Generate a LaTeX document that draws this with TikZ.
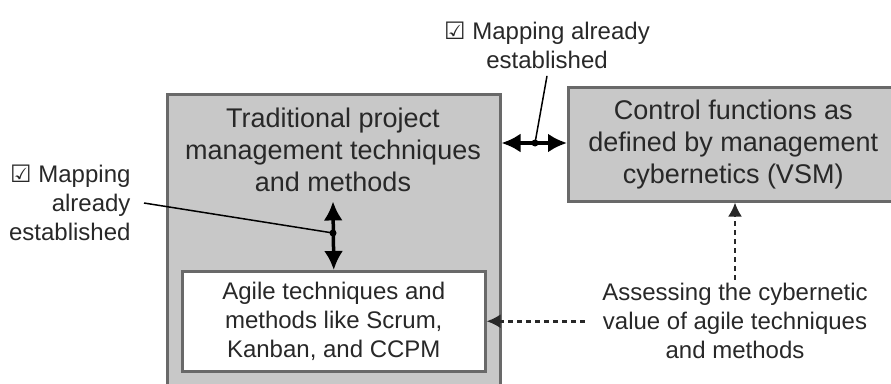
\documentclass[tikz,border=0pt]{standalone}
\usepackage{fontspec}
\setmainfont{Liberation Sans}
\newfontfamily\symfont{DejaVu Sans}
\usetikzlibrary{arrows.meta}
\definecolor{boxgray}{RGB}{200,200,200}
\definecolor{edgegray}{RGB}{105,105,105}
\definecolor{inkgray}{RGB}{40,40,40}
\newcommand{\chk}{{\symfont\bfseries ☑}}

\begin{document}
\begin{tikzpicture}[x=1pt, y=-1pt,
    box/.style={draw=edgegray, line width=2.5pt, fill=boxgray, anchor=north west},
    bigtext/.style={text=inkgray, align=center, font=\fontsize{27}{32}\selectfont},
    note/.style={text=inkgray, font=\fontsize{24}{29}\selectfont},
    maparrow/.style={{Latex[length=19pt,width=19pt]}-{Latex[length=19pt,width=19pt]}, line width=3.5pt, black},
    leader/.style={line width=1.5pt, black},
    hint/.style={-{Latex[length=14pt,width=14pt]}, dash pattern=on 5pt off 4pt, line width=2.5pt, inkgray}]
  \useasboundingbox (0,0) rectangle (891,383);

  % boxes
  \node [box, minimum width=333pt, minimum height=310pt] (tradbox) at (166,93) {};
  \node [bigtext] (trad) at (333,150) {Traditional project\\management techniques\\and methods};
  \node [box, minimum width=330pt, minimum height=114pt, bigtext, anchor=north west] (cyber) at (567,86)
    {Control functions as\\defined by management\\cybernetics (VSM)};
  \node [box, fill=white, minimum width=303pt, minimum height=100pt, note, align=center] (agile) at (181,270)
    {Agile techniques and\\methods like Scrum,\\Kanban, and CCPM};

  % notes
  \node [note, align=center] (mapTop) at (547,45) {\chk\ Mapping already\\established};
  \node [note, align=right, anchor=east] (mapLeft) at (134,203) {\chk\ Mapping\\already\\established};
  \node [note, align=center] (assess) at (735,321) {Assessing the cybernetic\\value of agile techniques\\and methods};

  % mappings
  \coordinate (hmid) at (535,143);
  \coordinate (vmid) at (333,233);
  \draw [maparrow] (hmid -| tradbox.east) -- (hmid -| cyber.west);
  \draw [maparrow] ([yshift=-6pt]trad.south) -- (agile.north);
  \draw [leader] ([yshift=-4pt]mapTop.south) -- (hmid);
  \draw [leader] ([xshift=10pt]mapLeft.east) -- (vmid);
  \fill (hmid) circle (3.5pt);
  \fill (vmid) circle (3.5pt);

  % assessment
  \draw [hint] (assess.north) -- (assess.north |- cyber.south);
  \draw [hint] ([xshift=-14pt]assess.west |- agile.east) -- (agile.east);
\end{tikzpicture}
\end{document}
